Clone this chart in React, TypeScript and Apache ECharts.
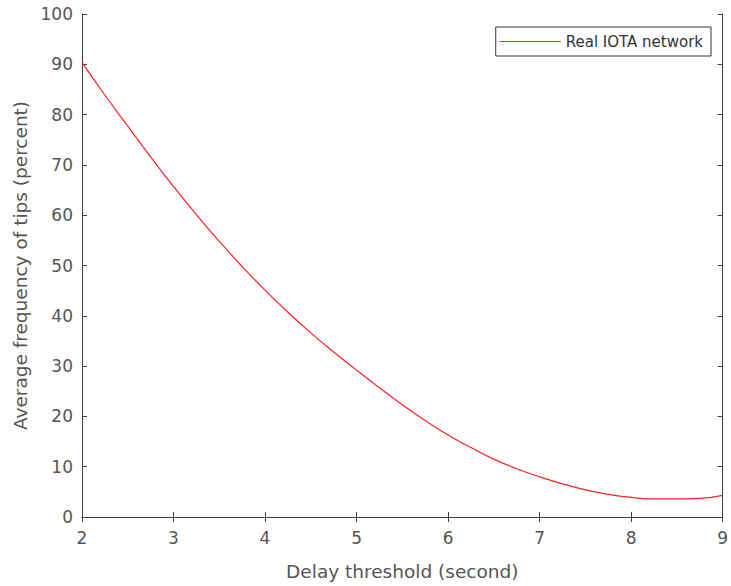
import React, { useEffect, useRef } from "react";
import * as echarts from "echarts";

const xValues = [2.0, 2.25, 2.5, 2.75, 3.0, 3.25, 3.5, 3.75, 4.0, 4.25, 4.5, 4.75, 5.0, 5.25, 5.5, 5.75, 6.0, 6.25, 6.5, 6.75, 7.0, 7.25, 7.5, 7.75, 8.0, 8.25, 8.5, 8.75, 9.0];
const yValues = [90.4, 83.9, 77.7, 71.6, 65.7, 60.1, 54.8, 49.8, 45.1, 40.7, 36.6, 32.8, 29.2, 25.7, 22.3, 19.2, 16.3, 13.8, 11.5, 9.6, 8.0, 6.6, 5.4, 4.5, 3.9, 3.6, 3.6, 3.7, 4.3];
const seriesName = "Real IOTA network";
const xAxisTitle = "Delay threshold (second)";
const yAxisTitle = "Average frequency of tips (percent)";

const FONT = "DejaVu Sans";
const AXIS_COLOR = "#404040";
const LABEL_COLOR = "#555555";

export default function App() {
  const ref = useRef<HTMLDivElement>(null);
  useEffect(() => {
    if (!ref.current) return;
    const chart = echarts.init(ref.current, undefined, { renderer: "svg" });
    const data = xValues.map((x, i) => [x, yValues[i]]);
    const axisLine = { show: true, lineStyle: { color: AXIS_COLOR, width: 1 } };
    const axisTick = { show: true, inside: true, length: 5, lineStyle: { color: AXIS_COLOR, width: 1 } };
    chart.setOption({
      animation: false,
      backgroundColor: "#ffffff",
      textStyle: { fontFamily: FONT },
      grid: { left: 82, right: 4, top: 14, bottom: 67, containLabel: false },
      legend: {
        show: true,
        right: 20,
        top: 27,
        orient: "vertical",
        backgroundColor: "#ffffff",
        borderColor: "#333333",
        borderWidth: 1,
        borderRadius: 0,
        padding: [7, 8, 7, 4],
        itemWidth: 61,
        itemHeight: 1,
        itemGap: 4,
        icon: "rect",
        textStyle: { fontFamily: FONT, fontSize: 15, color: "#333333", padding: [0, 0, 0, 0] },
        data: [{ name: seriesName, icon: "rect" }],
      },
      xAxis: [
        {
          type: "value",
          min: 2,
          max: 9,
          interval: 1,
          position: "bottom",
          name: xAxisTitle,
          nameLocation: "middle",
          nameGap: 45,
          nameTextStyle: { fontFamily: FONT, fontSize: 18.5, color: LABEL_COLOR },
          axisLine,
          axisTick,
          splitLine: { show: false },
          axisLabel: { fontFamily: FONT, fontSize: 17, color: LABEL_COLOR, margin: 12 },
        },
        {
          type: "value",
          min: 2,
          max: 9,
          interval: 1,
          position: "top",
          axisLine,
          axisTick,
          splitLine: { show: false },
          axisLabel: { show: false },
        },
      ],
      yAxis: [
        {
          type: "value",
          min: 0,
          max: 100,
          interval: 10,
          position: "left",
          name: yAxisTitle,
          nameLocation: "middle",
          nameGap: 52,
          nameTextStyle: { fontFamily: FONT, fontSize: 18.5, color: LABEL_COLOR },
          axisLine,
          axisTick,
          splitLine: { show: false },
          axisLabel: { fontFamily: FONT, fontSize: 17, color: LABEL_COLOR, margin: 9 },
        },
        {
          type: "value",
          min: 0,
          max: 100,
          interval: 10,
          position: "right",
          axisLine,
          axisTick,
          splitLine: { show: false },
          axisLabel: { show: false },
        },
      ],
      series: [
        {
          name: seriesName,
          type: "line",
          data,
          smooth: true,
          showSymbol: false,
          symbol: "none",
          lineStyle: { color: "#ff2020", width: 1.2 },
          itemStyle: { color: "#ff2020" },
        },
      ],
    });
    return () => chart.dispose();
  }, []);
  return <div ref={ref} style={{ width: 731, height: 586, position: "absolute", left: 0, top: 0 }} />;
}
